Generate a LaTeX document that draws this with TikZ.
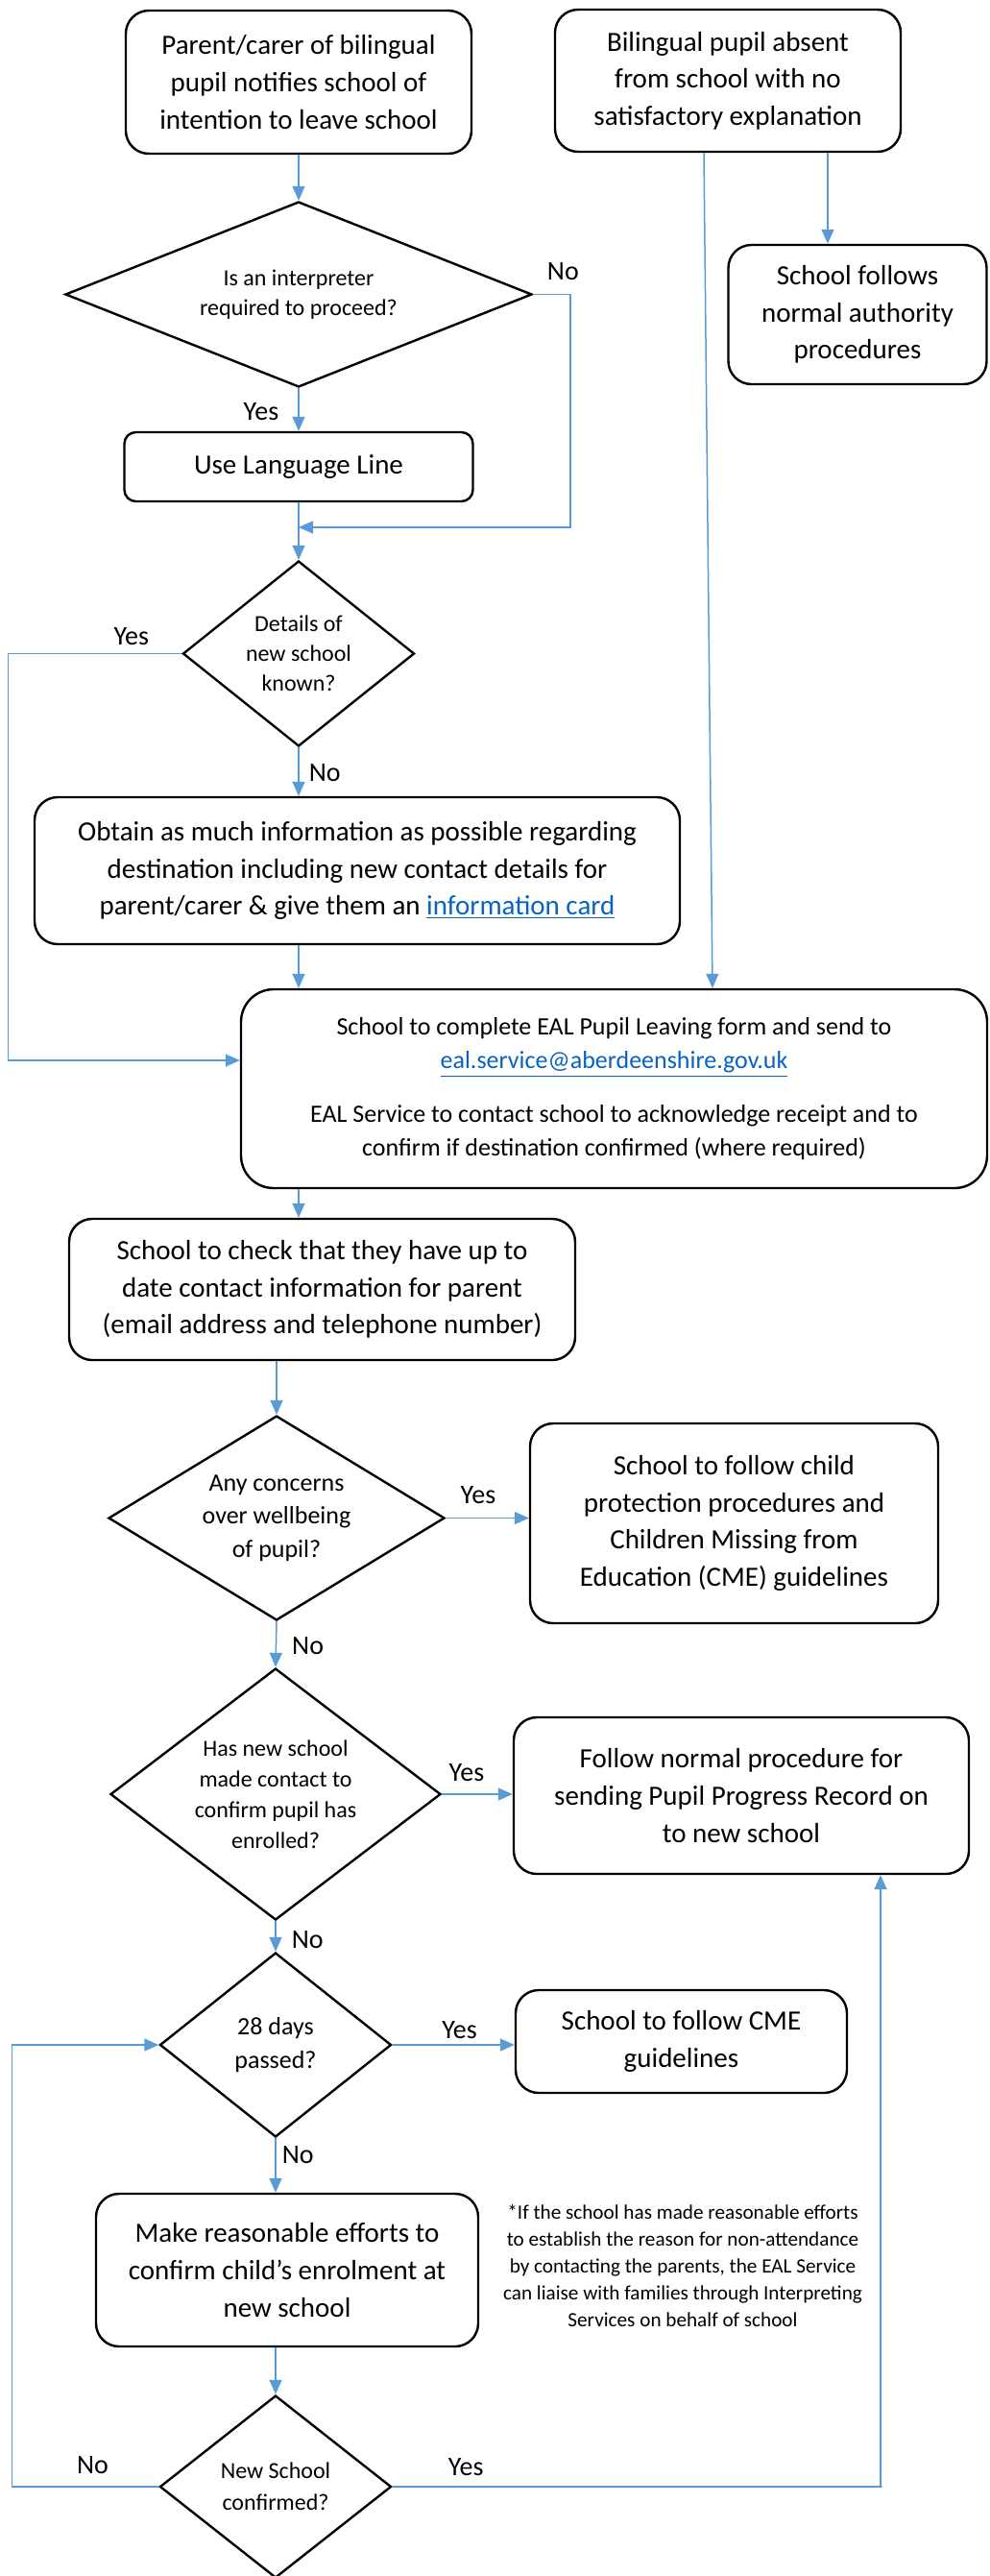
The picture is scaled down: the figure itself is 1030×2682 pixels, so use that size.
\documentclass[tikz,border=0pt]{standalone}
\usepackage{fontspec}
\setmainfont{Carlito}
\usepackage{xcolor}
\definecolor{cLine}{HTML}{5B9BD5}
\definecolor{cLink}{HTML}{0563C1}
\usepackage{tikz}
\usetikzlibrary{positioning,arrows.meta,shapes.geometric}
\tikzset{
  node-box/.style={draw=black,line width=1.2pt,rounded corners=12pt,
    align=center,inner sep=0pt,font=\fontsize{14.5}{19.3}\selectfont},
  node-dec/.style={draw=black,line width=1.2pt,diamond,inner sep=0pt,
    align=center,font=\fontsize{12}{15.5}\selectfont},
  node-note/.style={align=center,inner sep=0pt,font=\fontsize{10.6}{14}\selectfont},
  arrow/.style={-{Triangle[length=7.5pt,width=6.5pt]},line width=0.75pt,draw=cLine},
  lbl/.style={font=\fontsize{14}{16}\selectfont,inner sep=0pt,text=black},
}
\newcommand{\weblink}[1]{\textcolor{cLink}{\underline{#1}}}

\begin{document}
\begin{tikzpicture}[x=0.5pt,y=-0.5pt]
  \useasboundingbox (0,0) rectangle (1030,2682);

  % top row
  \node[node-box,minimum width=180pt,minimum height=74.5pt] (parent) at (311,85.5)
    {Parent/carer of bilingual\\pupil notifies school of\\intention to leave school};
  \node[node-box,minimum width=180pt,minimum height=74pt] (absent) at (758,84)
    {Bilingual pupil absent\\from school with no\\satisfactory explanation};
  \node[node-box,minimum width=134.5pt,minimum height=72.5pt] (normal) at (893,327.5)
    {School follows\\normal authority\\procedures};

  \node[node-dec,aspect=2.52,minimum width=243pt,minimum height=96.5pt] (interp) at (311,306.5)
    {Is an interpreter\\required to proceed?};
  \node[node-box,rounded corners=6pt,minimum width=181.5pt,minimum height=36pt] (lang) at (311,486)
    {Use Language Line};
  \coordinate (merge) at (311,549);
  \node[node-dec,aspect=1.25,minimum width=120.5pt,minimum height=96.5pt] (known) at (311,680.5)
    {Details of\\new school\\known?};
  \node[node-box,minimum width=336pt,minimum height=76.5pt] (obtain) at (372,906.5)
    {Obtain as much information as possible regarding\\destination including new contact details for\\parent/carer \& give them an \weblink{information card}};
  \node[node-box,rounded corners=17pt,minimum width=388.5pt,minimum height=103.5pt,
    font=\fontsize{13}{17.8}\selectfont] (eal) at (639.5,1133.5)
    {School to complete EAL Pupil Leaving form and send to\\\weblink{eal.service@aberdeenshire.gov.uk}\\[10pt]EAL Service to contact school to acknowledge receipt and to\\confirm if destination confirmed (where required)};
  \node[node-box,minimum width=263.5pt,minimum height=73.5pt] (check) at (335.5,1342.5)
    {School to check that they have up to\\date contact information for parent\\(email address and telephone number)};

  % lower decisions
  \node[node-dec,aspect=1.64,minimum width=175pt,minimum height=106.5pt,
    font=\fontsize{13}{17.3}\selectfont] (concern) at (288,1580.5)
    {Any concerns\\over wellbeing\\of pupil?};
  \node[node-box,minimum width=212.5pt,minimum height=104pt] (protect) at (764.5,1586)
    {School to follow child\\protection procedures and\\Children Missing from\\Education (CME) guidelines};
  \node[node-dec,aspect=1.31,minimum width=172pt,minimum height=131pt,
    font=\fontsize{12}{16}\selectfont] (contact) at (287,1868)
    {Has new school\\made contact to\\confirm pupil has\\enrolled?};
  \node[node-box,minimum width=237pt,minimum height=81.5pt] (progress) at (772,1869.5)
    {Follow normal procedure for\\sending Pupil Progress Record on\\to new school};
  \node[node-dec,aspect=1.255,minimum width=120.5pt,minimum height=96pt,
    font=\fontsize{13}{17.7}\selectfont] (days) at (287,2129)
    {28 days\\passed?};
  \node[node-box,minimum width=172.5pt,minimum height=53.5pt] (cme) at (709.5,2125.5)
    {School to follow CME\\guidelines};
  \node[node-box,minimum width=199pt,minimum height=79.5pt] (efforts) at (299,2363.5)
    {Make reasonable efforts to\\confirm child's enrolment at\\new school};
  \node[node-note] (note) at (711,2359)
    {*If the school has made reasonable efforts\\to establish the reason for non-attendance\\by contacting the parents, the EAL Service\\can liaise with families through Interpreting\\Services on behalf of school};
  \node[node-dec,aspect=1.27,minimum width=120.5pt,minimum height=95pt,
    font=\fontsize{12}{16.3}\selectfont] (confirm) at (287,2589)
    {New School\\confirmed?};

  % connectors
  \draw[arrow] (parent.south) -- (interp.north);
  \draw[arrow] (interp.south) -- node[lbl,left=10pt,pos=.55]{Yes} (lang.north);
  \draw[arrow] (interp.east) -- node[lbl,above=7pt,pos=.8]{No} ++(39,0) |- (merge);
  \draw[arrow] (lang.south) -- (known.north);
  \draw[arrow] ([xshift=52pt]absent.south) -- ([xshift=52pt]absent.south |- normal.north);
  \draw[arrow] ([xshift=-12.5pt]absent.south) -- ([xshift=51.25pt]eal.north);
  \draw[arrow] (known.west) -- node[lbl,above=4pt,pos=.29]{Yes} ++(-181,0) |- ([yshift=14.75pt]eal.west);
  \draw[arrow] (known.south) -- node[lbl,right=5pt,pos=.53]{No} (known.south |- obtain.north);
  \draw[arrow] (obtain.south -| known.south) -- (eal.north -| known.south);
  \draw[arrow] (eal.south -| known.south) -- (check.north -| known.south);
  \draw[arrow] (check.south -| concern.north) -- (concern.north);
  \draw[arrow] (concern.east) -- node[lbl,above=7pt,pos=.39]{Yes} (concern.east -| protect.west);
  \draw[arrow] (concern.south) -- node[lbl,right=8pt,pos=.54]{No} (contact.north);
  \draw[arrow] (contact.east) -- node[lbl,above=6.5pt,pos=.35]{Yes} (contact.east -| progress.west);
  \draw[arrow] (contact.south) -- node[lbl,right=8pt,pos=.6]{No} (days.north);
  \draw[arrow] (days.east) -- node[lbl,above=3pt,pos=.55]{Yes} (days.east -| cme.west);
  \draw[arrow] (days.south) -- node[lbl,right=3pt,pos=.3]{No} (efforts.north -| days.south);
  \draw[arrow] (efforts.south -| confirm.north) -- (confirm.north);
  \draw[arrow] (confirm.west) -- node[lbl,above=6.5pt,pos=.45]{No} ++(-153,0) |- (days.west);
  \draw[arrow] (confirm.east) -- node[lbl,above=5.5pt,pos=.15]{Yes} ++(510,0) -| ([xshift=72.5pt]progress.south);
\end{tikzpicture}
\end{document}
